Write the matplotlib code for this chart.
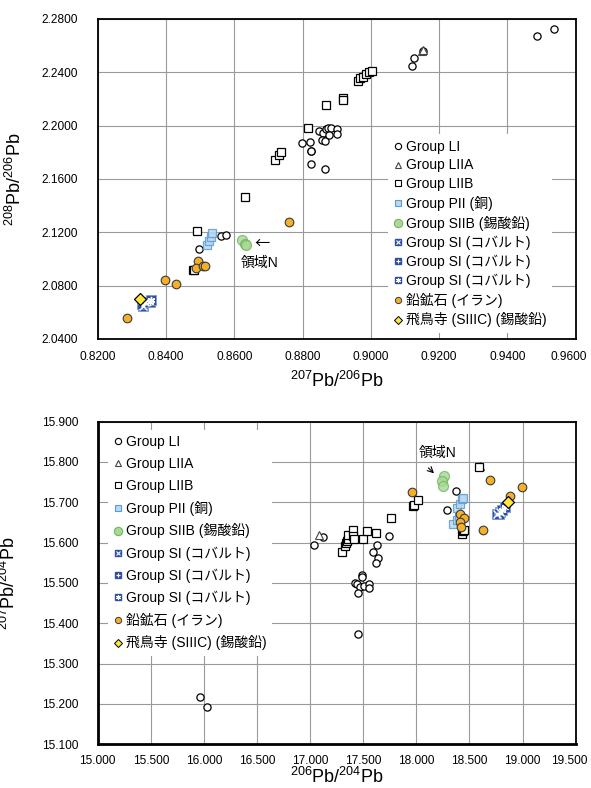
import numpy as np
import matplotlib
matplotlib.use('Agg')
import matplotlib.pyplot as plt
import matplotlib.transforms as mtrans
from matplotlib.lines import Line2D

plt.rcParams['font.family'] = ['Liberation Sans', 'Noto Sans CJK JP', 'DejaVu Sans']
plt.rcParams['mathtext.fontset'] = 'custom'
plt.rcParams['mathtext.rm'] = 'Liberation Sans'

# ---- data: 207Pb/206Pb vs 208Pb/206Pb (top) ----
li_x1 = [0.8496, 0.8560, 0.8575, 0.8798, 0.8822, 0.8826, 0.8826, 0.8824, 0.8866,
         0.8849, 0.8859, 0.8869, 0.8874, 0.8883, 0.8901, 0.8857, 0.8865, 0.8878, 0.8901,
         0.9121, 0.9126, 0.9153, 0.9488, 0.9537]
li_y1 = [2.1075, 2.1175, 2.1182, 2.1873, 2.1875, 2.1811, 2.1808, 2.1714, 2.1674,
         2.1961, 2.1944, 2.1974, 2.1981, 2.1986, 2.1974, 2.1894, 2.1886, 2.1931, 2.1936,
         2.2450, 2.2505, 2.2562, 2.2675, 2.2723]
lia_x1 = [0.9150, 0.9152]
lia_y1 = [2.2560, 2.2570]
lib_x1 = [0.8492, 0.8478, 0.8481, 0.8631, 0.8718, 0.8731, 0.8736, 0.8817, 0.8869,
          0.8918, 0.8918, 0.8962, 0.8967, 0.8976, 0.8986, 0.8996, 0.9003]
lib_y1 = [2.1207, 2.0915, 2.0918, 2.1462, 2.1744, 2.1781, 2.1799, 2.1986, 2.2156,
          2.2211, 2.2193, 2.2336, 2.2360, 2.2368, 2.2388, 2.2405, 2.2410]
pii_x1 = [0.8521, 0.8525, 0.8532, 0.8535]
pii_y1 = [2.1107, 2.1132, 2.1165, 2.1195]
siib_x1 = [0.8624, 0.8631, 0.8635]
siib_y1 = [2.1139, 2.1112, 2.1107]
si1_x1 = [0.8334, 0.8340]
si1_y1 = [2.0645, 2.0675]
si2_x1 = [0.8331]
si2_y1 = [2.0660]
si3_x1 = [0.8352, 0.8357]
si3_y1 = [2.0680, 2.0692]
ore_x1 = [0.8759, 0.8493, 0.8489, 0.8509, 0.8513, 0.8396, 0.8429, 0.8286]
ore_y1 = [2.1274, 2.0982, 2.0933, 2.0945, 2.0945, 2.0840, 2.0813, 2.0558]
asuka_x1 = [0.8324]
asuka_y1 = [2.0700]

# ---- data: 206Pb/204Pb vs 207Pb/204Pb (bottom) ----
li_x2 = [15.965, 16.028, 17.035, 17.120, 17.747, 17.627, 17.589, 17.642, 17.620,
         17.491, 17.484, 17.421, 17.437, 17.468, 17.506, 17.557, 17.554, 17.453,
         17.446, 18.377, 18.291]
li_y2 = [15.218, 15.193, 15.595, 15.613, 15.616, 15.595, 15.576, 15.563, 15.549,
         15.519, 15.514, 15.501, 15.498, 15.491, 15.493, 15.498, 15.487, 15.475,
         15.373, 15.727, 15.682]
lia_x2 = [17.079, 18.595]
lia_y2 = [15.620, 15.789]
lib_x2 = [17.301, 17.330, 17.340, 17.345, 17.352, 17.360, 17.399, 17.405, 17.415,
          17.500, 17.532, 17.620, 17.763, 17.968, 17.981, 18.016, 18.592,
          18.427, 18.440, 18.449]
lib_y2 = [15.577, 15.591, 15.599, 15.605, 15.609, 15.620, 15.631, 15.616, 15.609,
          15.609, 15.628, 15.624, 15.660, 15.692, 15.694, 15.705, 15.788,
          15.622, 15.628, 15.631]
pii_x2 = [18.345, 18.386, 18.402, 18.386, 18.411, 18.434, 18.443]
pii_y2 = [15.646, 15.657, 15.666, 15.686, 15.696, 15.707, 15.711]
siib_x2 = [18.259, 18.244, 18.250]
siib_y2 = [15.765, 15.753, 15.740]
si1_x2 = [18.760, 18.790]
si1_y2 = [15.670, 15.676]
si2_x2 = [18.775]
si2_y2 = [15.672]
si3_x2 = [18.810, 18.830]
si3_y2 = [15.682, 15.688]
ore_x2 = [17.959, 18.696, 18.997, 18.877, 18.411, 18.449, 18.411, 18.424, 18.623]
ore_y2 = [15.725, 15.755, 15.737, 15.715, 15.670, 15.661, 15.651, 15.639, 15.632]
asuka_x2 = [18.861]
asuka_y2 = [15.700]

labels = ['Group LI', 'Group LIIA', 'Group LIIB', 'Group PII (銅)', 'Group SIIB (錫酸鉛)',
          'Group SI (コバルト)', 'Group SI (コバルト)', 'Group SI (コバルト)',
          '鉛鉱石 (イラン)', '飛鳥寺 (SIIIC) (錫酸鉛)']

ms = 5.2
SI_BLUE = '#2e4fa3'


def draw_points(ax, d):
    (lx, ly, ax_, ay_, bx, by, px, py, gx, gy,
     s1x, s1y, s2x, s2y, s3x, s3y, ox, oy, yx, yy) = d
    ax.plot(lx, ly, 'o', ms=ms, mfc='white', mec='black', mew=0.9, ls='none', zorder=3)
    ax.plot(ax_, ay_, '^', ms=ms, mfc='white', mec='#444444', mew=0.8, ls='none', zorder=3)
    ax.plot(bx, by, 's', ms=ms, mfc='white', mec='black', mew=0.9, ls='none', zorder=3)
    ax.plot(px, py, 's', ms=ms + 1, mfc='#bcd9f0', mec='#5b9bd5', mew=0.9, ls='none',
            alpha=0.85, zorder=3)
    ax.plot(gx, gy, 'o', ms=ms + 2, mfc='#a9d89a', mec='#70b85a', mew=0.9, ls='none',
            alpha=0.8, zorder=3)
    for sx, sy, inner in [(s1x, s1y, 'x'), (s2x, s2y, '+'), (s3x, s3y, (6, 2, 0))]:
        ax.plot(sx, sy, 's', ms=ms + 2, mfc=SI_BLUE, mec='#7f9bd8', mew=0.6, ls='none', zorder=4)
        ax.plot(sx, sy, marker=inner, ms=ms, mec='white', mew=1.0, ls='none', zorder=5)
    ax.plot(ox, oy, 'o', ms=ms + 1, mfc='#f4b02a', mec='#3a3a3a', mew=0.8, ls='none', zorder=4)
    ax.plot(yx, yy, 'D', ms=ms + 1, mfc='#ffe93a', mec='black', mew=0.9, ls='none', zorder=6)


def legend_handles():
    lm = 4.5
    h = [
        Line2D([], [], marker='o', ms=lm, mfc='white', mec='black', mew=0.8, ls='none'),
        Line2D([], [], marker='^', ms=lm, mfc='white', mec='#444444', mew=0.8, ls='none'),
        Line2D([], [], marker='s', ms=lm, mfc='white', mec='black', mew=0.8, ls='none'),
        Line2D([], [], marker='s', ms=lm, mfc='#bcd9f0', mec='#5b9bd5', mew=0.8, ls='none'),
        Line2D([], [], marker='o', ms=lm + 1.5, mfc='#a9d89a', mec='#70b85a', mew=0.8, ls='none'),
    ]
    for inner in ['x', '+', (6, 2, 0)]:
        h.append((Line2D([], [], marker='s', ms=lm + 0.5, mfc=SI_BLUE, mec=SI_BLUE, ls='none'),
                  Line2D([], [], marker=inner, ms=lm - 1, mec='white', mew=0.8, ls='none')))
    h.append(Line2D([], [], marker='o', ms=lm, mfc='#f4b02a', mec='#3a3a3a', mew=0.7, ls='none'))
    h.append(Line2D([], [], marker='D', ms=lm - 0.5, mfc='#ffe93a', mec='black', mew=0.7, ls='none'))
    return h


def style_axes(ax):
    ax.grid(True, color='#9a9a9a', lw=0.8)
    ax.set_axisbelow(True)
    for s in ax.spines.values():
        s.set_linewidth(1.3)
        s.set_color('black')
    ax.tick_params(length=0, labelsize=8.6)


def nudge_last_xlabel(ax):
    # keep the rightmost tick label inside the figure
    lab = ax.get_xticklabels()[-1]
    lab.set_transform(lab.get_transform() +
                      mtrans.ScaledTranslation(-5 / 72, 0, fig.dpi_scale_trans))


fig = plt.figure(figsize=(5.91, 7.88), dpi=100)

# ---- top chart ----
ax1 = fig.add_axes([0.1653, 0.5698, 0.8088, 0.4061])
draw_points(ax1, (li_x1, li_y1, lia_x1, lia_y1, lib_x1, lib_y1, pii_x1, pii_y1,
                  siib_x1, siib_y1, si1_x1, si1_y1, si2_x1, si2_y1, si3_x1, si3_y1,
                  ore_x1, ore_y1, asuka_x1, asuka_y1))
ax1.set_xlim(0.82, 0.96)
ax1.set_ylim(2.04, 2.28)
ax1.set_xticks(np.arange(0.82, 0.9601, 0.02))
ax1.set_yticks(np.arange(2.04, 2.2801, 0.04))
ax1.xaxis.set_major_formatter(plt.FormatStrFormatter('%.4f'))
ax1.yaxis.set_major_formatter(plt.FormatStrFormatter('%.4f'))
style_axes(ax1)
ax1.tick_params(axis='y', pad=14)
ax1.tick_params(axis='x', pad=9)
ax1.set_xlabel(r'$^{207}$Pb/$^{206}$Pb', fontsize=13, labelpad=5)
ax1.set_ylabel(r'$^{208}$Pb/$^{206}$Pb', fontsize=13)
ax1.yaxis.set_label_coords(-0.152, 0.5)
ax1.text(0.8682, 2.1115, '←', fontsize=11, ha='center', va='center',
         family=['Noto Sans CJK JP'])
ax1.text(0.8675, 2.0972, '領域N', fontsize=10, ha='center', va='center')
leg1 = ax1.legend(legend_handles(), labels, loc='upper left', bbox_to_anchor=(0.607, 0.64),
                  frameon=True, facecolor='white', edgecolor='none', framealpha=1,
                  fancybox=False, fontsize=10, handlelength=0.6, handletextpad=0.3,
                  labelspacing=0.34, borderpad=0.4, borderaxespad=0)
leg1.set_zorder(2)

# ---- bottom chart ----
ax2 = fig.add_axes([0.1653, 0.0555, 0.8088, 0.4094])
draw_points(ax2, (li_x2, li_y2, lia_x2, lia_y2, lib_x2, lib_y2, pii_x2, pii_y2,
                  siib_x2, siib_y2, si1_x2, si1_y2, si2_x2, si2_y2, si3_x2, si3_y2,
                  ore_x2, ore_y2, asuka_x2, asuka_y2))
ax2.set_xlim(15.0, 19.5)
ax2.set_ylim(15.1, 15.9)
ax2.set_xticks(np.arange(15.0, 19.501, 0.5))
ax2.set_yticks(np.arange(15.1, 15.901, 0.1))
ax2.xaxis.set_major_formatter(plt.FormatStrFormatter('%.3f'))
ax2.yaxis.set_major_formatter(plt.FormatStrFormatter('%.3f'))
style_axes(ax2)
ax2.spines['left'].set_linewidth(2)
ax2.spines['bottom'].set_linewidth(2)
ax2.tick_params(axis='y', pad=14)
ax2.tick_params(axis='x', pad=8)
ax2.set_xlabel(r'$^{206}$Pb/$^{204}$Pb', fontsize=13, labelpad=0)
ax2.set_ylabel(r'$^{207}$Pb/$^{204}$Pb', fontsize=13)
ax2.yaxis.set_label_coords(-0.165, 0.5)
ax2.text(18.198, 15.822, '領域N', fontsize=10, ha='center', va='center')
ax2.annotate('', xy=(18.185, 15.767), xytext=(18.095, 15.790),
             arrowprops=dict(arrowstyle='->', lw=0.8, color='black'))
leg2 = ax2.legend(legend_handles(), labels, loc='upper left', bbox_to_anchor=(0.022, 0.975),
                  frameon=True, facecolor='white', edgecolor='none', framealpha=1,
                  fancybox=False, fontsize=10, handlelength=0.6, handletextpad=0.3,
                  labelspacing=0.56, borderpad=0.4, borderaxespad=0)
leg2.set_zorder(2)

nudge_last_xlabel(ax1)
nudge_last_xlabel(ax2)

plt.savefig('out.png', dpi=100)
